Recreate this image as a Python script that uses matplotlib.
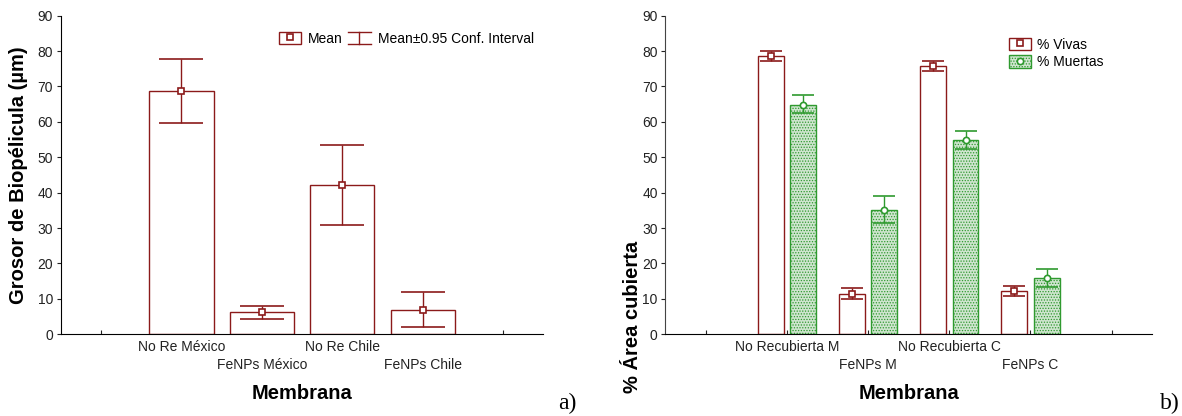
import numpy as np
import matplotlib
matplotlib.use('Agg')
import matplotlib.pyplot as plt
from matplotlib.patches import Patch
from matplotlib.lines import Line2D
from matplotlib.legend_handler import HandlerBase, HandlerTuple

plt.rcParams['font.family'] = ['Liberation Sans', 'DejaVu Sans']
plt.rcParams['hatch.linewidth'] = 0.6

# Panel a) biofilm thickness
cats_a = ['No Re México', 'FeNPs México', 'No Re Chile', 'FeNPs Chile']
mean_a = [68.8, 6.2, 42.3, 7.0]
lo_a = [59.6, 4.4, 31.0, 2.0]
hi_a = [77.7, 8.0, 53.4, 11.9]

# Panel b) % covered area
cats_b = ['No Recubierta M', 'FeNPs M', 'No Recubierta C', 'FeNPs C']
vivas = [78.5, 11.5, 75.7, 12.1]
vivas_lo = [77.2, 10.0, 74.3, 10.7]
vivas_hi = [80.1, 13.0, 77.1, 13.6]
muertas = [64.9, 35.2, 54.9, 15.9]
muertas_lo = [62.5, 31.4, 52.4, 13.4]
muertas_hi = [67.5, 39.0, 57.3, 18.4]

red = '#8b1a1a'
green = '#2f9a2f'
green_fill = '#cfe5cf'


class IBeamHandler(HandlerBase):
    def create_artists(self, legend, orig_handle, xdescent, ydescent,
                       width, height, fontsize, trans):
        x0, x1 = -xdescent, -xdescent + width
        y0, y1 = -ydescent, -ydescent + height
        xm = (x0 + x1) / 2
        lines = [Line2D([x0, x1], [y1, y1]), Line2D([x0, x1], [y0, y0]),
                 Line2D([xm, xm], [y0, y1])]
        for ln in lines:
            ln.set_color(red)
            ln.set_linewidth(1.0)
            ln.set_transform(trans)
        return lines


class CIHandle:
    pass


def style_axes(ax, cats):
    ax.spines['top'].set_visible(False)
    ax.spines['right'].set_visible(False)
    ax.set_xlim(-1.5, 4.5)
    ax.set_ylim(0, 90)
    ax.set_yticks(np.arange(0, 91, 10))
    labels = ['']
    for i, c in enumerate(cats):
        labels.append(c if i % 2 == 0 else '\n' + c)
    labels.append('')
    ax.set_xticks(range(-1, 5))
    ax.set_xticklabels(labels, fontsize=10, linespacing=1.35)
    ax.tick_params(axis='x', direction='in', length=3, pad=4, colors='#222222')
    ax.tick_params(axis='y', direction='out', length=3, pad=2.5, labelsize=10, colors='#222222')
    ax.set_xlabel('Membrana', fontsize=14.5, fontweight='bold', va='center')
    ax.xaxis.set_label_coords(0.5, -0.185)


fig = plt.figure(figsize=(11.82, 4.16), dpi=100)
ax1 = fig.add_axes([0.0514, 0.1964, 0.4083, 0.766])
ax2 = fig.add_axes([0.5629, 0.1964, 0.4118, 0.766])

# ---- panel a
x = np.arange(len(cats_a))
mean_a = np.array(mean_a)
err_a = [mean_a - np.array(lo_a), np.array(hi_a) - mean_a]
ax1.bar(x, mean_a, width=0.8, color='white', edgecolor=red, linewidth=1.0, zorder=2)
ax1.errorbar(x, mean_a, yerr=err_a, fmt='s', color=red, ecolor=red, elinewidth=1.0,
             capsize=16, capthick=1.0, markersize=5, markerfacecolor='white',
             markeredgecolor=red, markeredgewidth=1.2, zorder=3)
style_axes(ax1, cats_a)
ax1.set_ylabel('Grosor de Biopélicula (µm)', fontsize=14.5, fontweight='bold',
               va='center', ha='center')
ax1.yaxis.set_label_coords(-0.088, 0.5)

h_mean = (Patch(facecolor='white', edgecolor=red, linewidth=1.0),
          Line2D([], [], ls='none', marker='s', markersize=5, markerfacecolor='white',
                 markeredgecolor=red, markeredgewidth=1.2))
h_ci = CIHandle()
ax1.legend([h_mean, h_ci], ['Mean', 'Mean±0.95 Conf. Interval'],
           handler_map={tuple: HandlerTuple(ndivide=1, pad=0), CIHandle: IBeamHandler()},
           ncol=2, loc='center left', bbox_to_anchor=(0.452, 0.927), frameon=False,
           fontsize=10, borderaxespad=0, borderpad=0, handlelength=1.6,
           handleheight=1.0, handletextpad=0.5, columnspacing=0.4)

# ---- panel b
xb = np.arange(len(cats_b))
vivas = np.array(vivas)
muertas = np.array(muertas)
err_v = [vivas - np.array(vivas_lo), np.array(vivas_hi) - vivas]
err_m = [muertas - np.array(muertas_lo), np.array(muertas_hi) - muertas]
ax2.bar(xb - 0.2, vivas, width=0.32, color='white', edgecolor=red, linewidth=1.0, zorder=2)
ax2.bar(xb + 0.2, muertas, width=0.32, color=green_fill, edgecolor=green, hatch='......',
        linewidth=1.0, zorder=2)
ax2.errorbar(xb - 0.2, vivas, yerr=err_v, fmt='s', color=red, ecolor=red, elinewidth=1.0,
             capsize=8, capthick=1.0, markersize=5, markerfacecolor='white',
             markeredgecolor=red, markeredgewidth=1.2, zorder=3)
ax2.errorbar(xb + 0.2, muertas, yerr=err_m, fmt='o', color=green, ecolor=green, elinewidth=1.0,
             capsize=8, capthick=1.0, markersize=4.5, markerfacecolor='white',
             markeredgecolor=green, markeredgewidth=1.2, zorder=3)
style_axes(ax2, cats_b)
ax2.spines['left'].set_color('#444444')
ax2.set_ylabel('% Área cubierta', fontsize=14.5, fontweight='bold', va='center', ha='center')
ax2.yaxis.set_label_coords(-0.068, 0.055)

h_viv = (Patch(facecolor='white', edgecolor=red, linewidth=1.0),
         Line2D([], [], ls='none', marker='s', markersize=5, markerfacecolor='white',
                markeredgecolor=red, markeredgewidth=1.2))
h_mue = (Patch(facecolor=green_fill, edgecolor=green, hatch='......', linewidth=1.0),
         Line2D([], [], ls='none', marker='o', markersize=4.5, markerfacecolor='white',
                markeredgecolor=green, markeredgewidth=1.2))
ax2.legend([h_viv, h_mue], ['% Vivas', '% Muertas'],
           handler_map={tuple: HandlerTuple(ndivide=1, pad=0)},
           loc='center left', bbox_to_anchor=(0.706, 0.881), frameon=False,
           fontsize=10, borderaxespad=0, borderpad=0, handlelength=1.6,
           handleheight=1.0, handletextpad=0.45, labelspacing=0.25)

fig.text(0.472, 0.031, 'a)', fontsize=17, family=['Liberation Serif', 'DejaVu Serif'],
         va='center', ha='left')
fig.text(0.981, 0.031, 'b)', fontsize=17, family=['Liberation Serif', 'DejaVu Serif'],
         va='center', ha='left')

fig.savefig('out.png', dpi=100)
